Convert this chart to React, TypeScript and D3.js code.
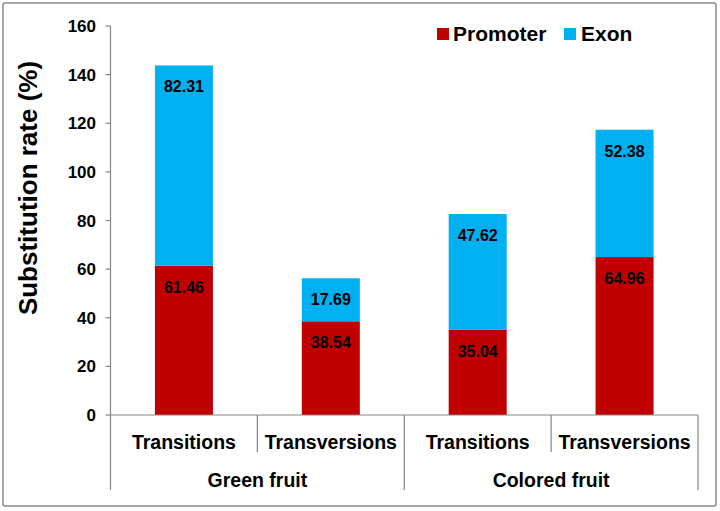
import React from "react";
import * as d3 from "d3";

const categories = ["Transitions", "Transversions", "Transitions", "Transversions"];
const groups = ["Green fruit", "Colored fruit"];
const promoter = [61.46, 38.54, 35.04, 64.96];
const exon = [82.31, 17.69, 47.62, 52.38];
const seriesNames = ["Promoter", "Exon"];
const yTicks = [0, 20, 40, 60, 80, 100, 120, 140, 160];

const RED = "#C00000";
const BLUE = "#00B0F0";
const AXIS = "#868686";
const FONT = "'Liberation Sans', Arial, sans-serif";

export default function App() {
  const W = 720, H = 511;
  const left = 110.5, right = 698, top = 26, bottom = 415;
  const y = d3.scaleLinear().domain([0, 160]).range([bottom, top]);
  const x = d3.scaleBand<number>().domain(d3.range(categories.length)).range([left, right]).paddingInner(0).paddingOuter(0);
  const bw = x.bandwidth() * 0.395;
  const gx = d3.scaleBand<number>().domain(d3.range(groups.length)).range([left, right]);

  const stackData = categories.map((c, i) => ({ i, Promoter: promoter[i], Exon: exon[i] }));
  const stacked = d3.stack<any>().keys(seriesNames)(stackData);
  const colors = [RED, BLUE];

  return (
    <svg width={W} height={H} style={{ position: "absolute", left: 0, top: 0, background: "#fff" }} fontFamily={FONT}>
      <rect x={3} y={3} width={713} height={503} fill="#fff" stroke="#8a8a8a" strokeWidth={1.5} rx={2} />
      {/* bars */}
      {stacked.map((s, si) => (
        <g key={si}>
          {s.map((d, i) => {
            const cx = (x(i) as number) + x.bandwidth() / 2;
            return (
              <g key={i}>
                <rect x={cx - bw / 2} y={y(d[1])} width={bw} height={y(d[0]) - y(d[1])} fill={colors[si]} />
                <text x={cx} y={y(d[1]) + 27} textAnchor="middle" fontSize={16} fontWeight="bold" fill="#000">
                  {(d[1] - d[0]).toFixed(2)}
                </text>
              </g>
            );
          })}
        </g>
      ))}
      {/* y axis */}
      <line x1={left} x2={left} y1={top} y2={490} stroke={AXIS} strokeWidth={1.2} />
      {yTicks.map((t) => (
        <g key={t}>
          <line x1={left - 5} x2={left} y1={y(t)} y2={y(t)} stroke={AXIS} strokeWidth={1.2} />
          <text x={96} y={y(t) + 6} textAnchor="end" fontSize={17} fontWeight="bold">{t}</text>
        </g>
      ))}
      {/* x axis */}
      <line x1={left} x2={right} y1={bottom} y2={bottom} stroke={AXIS} strokeWidth={1.2} />
      {d3.range(categories.length + 1).map((k) => {
        const xx = k < categories.length ? (x(k) as number) : right;
        const long = k % 2 === 0;
        return k === 0 ? null : (
          <line key={k} x1={xx} x2={xx} y1={bottom} y2={long ? 490 : 452} stroke={AXIS} strokeWidth={1.2} />
        );
      })}
      {categories.map((c, i) => (
        <text key={i} x={(x(i) as number) + x.bandwidth() / 2} y={449} textAnchor="middle" fontSize={19.5} fontWeight="bold">{c}</text>
      ))}
      {groups.map((g, i) => (
        <text key={i} x={(gx(i) as number) + gx.bandwidth() / 2} y={487} textAnchor="middle" fontSize={19.5} fontWeight="bold">{g}</text>
      ))}
      {/* y title */}
      <text transform={`translate(37,188) rotate(-90)`} textAnchor="middle" fontSize={26} fontWeight="bold">Substitution rate (%)</text>
      {/* legend */}
      <rect x={437} y={28} width={12} height={12} fill={RED} />
      <text x={453} y={41} fontSize={21} fontWeight="bold">{seriesNames[0]}</text>
      <rect x={564} y={28} width={12} height={12} fill={BLUE} />
      <text x={581} y={41} fontSize={21} fontWeight="bold">{seriesNames[1]}</text>
    </svg>
  );
}
